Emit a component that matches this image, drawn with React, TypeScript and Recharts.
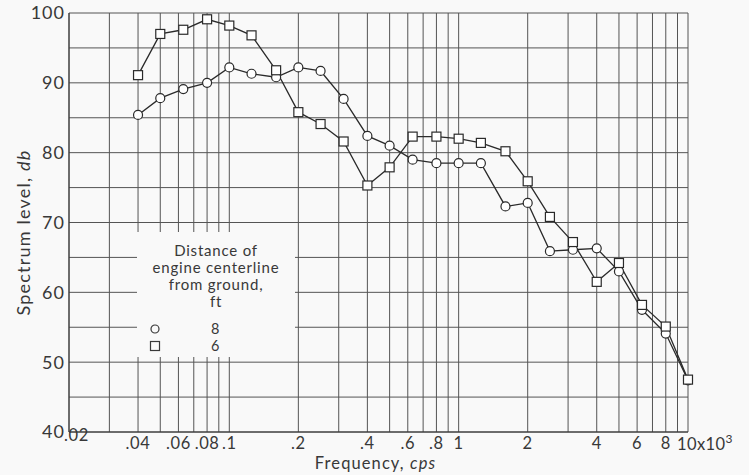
import React from 'react';
import { LineChart, Line, XAxis, YAxis, ReferenceLine, Label } from 'recharts';

// one-third octave band centres, in kilocycles
const freqs = [0.04, 0.05, 0.063, 0.08, 0.1, 0.125, 0.16, 0.2, 0.25, 0.315, 0.4, 0.5, 0.63, 0.8, 1, 1.25, 1.6, 2, 2.5, 3.15, 4, 5, 6.3, 8, 10];
const level8ft = [85.4, 87.8, 89.1, 90.0, 92.2, 91.3, 90.8, 92.2, 91.7, 87.7, 82.4, 81.0, 79.0, 78.5, 78.5, 78.5, 72.3, 72.8, 65.9, 66.1, 66.3, 63.0, 57.5, 54.1, 47.4];
const level6ft = [91.1, 97.0, 97.6, 99.1, 98.2, 96.8, 91.8, 85.8, 84.1, 81.6, 75.3, 77.9, 82.3, 82.3, 82.0, 81.4, 80.2, 75.9, 70.8, 67.2, 61.5, 64.2, 58.2, 55.1, 47.5];

const xTicks = [0.02, 0.04, 0.06, 0.08, 0.1, 0.2, 0.4, 0.6, 0.8, 1, 2, 4, 6, 8, 10];
const xTickLabels = ['.02', '.04', '.06', '.08', '.1', '.2', '.4', '.6', '.8', '1', '2', '4', '6', '8', '10'];
const yTicks = [40, 50, 60, 70, 80, 90, 100];
const xGrid = [0.02, 0.03, 0.04, 0.05, 0.06, 0.07, 0.08, 0.09, 0.1, 0.2, 0.3, 0.4, 0.5, 0.6, 0.7, 0.8, 0.9, 1, 2, 3, 4, 5, 6, 7, 8, 9, 10];
const yGrid = [40, 45, 50, 55, 60, 65, 70, 75, 80, 85, 90, 95, 100];

const data = freqs.map((f, i) => ({ f, d8: level8ft[i], d6: level6ft[i] }));

const FONT = "Lato, 'Open Sans', sans-serif";
const INK = '#383838';
const BG = '#f9f9f9';

const FreqTick = (props: any) => {
  const { x, y, payload } = props;
  const v = payload.value;
  const label = xTickLabels[xTicks.indexOf(v)];
  if (v === 10) {
    return (
      <text x={x - 11} y={y + 18} fill={INK} fontSize={16.5} fontFamily={FONT} letterSpacing={0.4}>
        10x10<tspan dy={-7} fontSize={12}>3</tspan>
      </text>
    );
  }
  if (v === 0.02) {
    return (
      <text x={x - 5} y={y + 9} fill={INK} fontSize={16.5} fontFamily={FONT} letterSpacing={0.6}>
        {label}
      </text>
    );
  }
  return (
    <text x={x} y={y + 17} fill={INK} fontSize={16.5} fontFamily={FONT} letterSpacing={0.6} textAnchor="middle">
      {label}
    </text>
  );
};

const SquareDot = (props: any) => {
  const { cx, cy, index } = props;
  return <rect key={`sq-${index}`} x={cx - 4.5} y={cy - 4.5} width={9} height={9} fill="#fff" stroke="#2a2a2a" strokeWidth={1.2} />;
};

const LegendBox = () => (
  <div
    style={{
      position: 'absolute', left: 137, top: 232, width: 158, height: 125,
      background: BG, fontFamily: FONT, color: INK, fontSize: 15, lineHeight: '17px', letterSpacing: 0.8,
    }}
  >
    <div style={{ textAlign: 'center', marginTop: 10 }}>
      Distance of<br />engine centerline<br />from ground,<br />ft
    </div>
    <div style={{ display: 'flex', alignItems: 'center', marginTop: 10, height: 17.5 }}>
      <svg width={36} height={12}><circle cx={18} cy={6} r={4} fill="none" stroke={INK} strokeWidth={1.2} /></svg>
      <span style={{ marginLeft: 38, fontSize: 14.5, lineHeight: '14px' }}>8</span>
    </div>
    <div style={{ display: 'flex', alignItems: 'center', height: 17.5 }}>
      <svg width={36} height={12}><rect x={13.5} y={1.5} width={9} height={9} fill="none" stroke={INK} strokeWidth={1.2} /></svg>
      <span style={{ marginLeft: 38, fontSize: 14.5, lineHeight: '14px' }}>6</span>
    </div>
  </div>
);

export default function App() {
  return (
    <div style={{ position: 'absolute', left: 0, top: 0, width: 749, height: 475, background: BG }}>
      <LineChart width={749} height={475} data={data} margin={{ top: 13, right: 61, bottom: 0, left: 9 }}>
        {xGrid.map((g) => (
          <ReferenceLine key={`vx-${g}`} x={g} stroke="#555" strokeWidth={1} />
        ))}
        {yGrid.map((g) => (
          <ReferenceLine key={`hy-${g}`} y={g} stroke="#555" strokeWidth={1} />
        ))}
        <XAxis
          dataKey="f"
          type="number"
          scale="log"
          domain={[0.02, 10]}
          ticks={xTicks}
          interval={0}
          tick={<FreqTick />}
          tickLine={false}
          tickSize={0}
          tickMargin={0}
          height={43}
          axisLine={{ stroke: '#333' }}
        >
          <Label
            content={(p: any) => {
              const vb = p.viewBox || { x: 69, y: 432, width: 619 };
              return (
                <text x={vb.x + vb.width / 2 - 3} y={vb.y + 37} fill={INK} fontSize={16.5} letterSpacing={1.1} fontFamily={FONT} textAnchor="middle">
                  Frequency, <tspan fontStyle="italic">cps</tspan>
                </text>
              );
            }}
          />
        </XAxis>
        <YAxis
          type="number"
          domain={[40, 100]}
          ticks={yTicks}
          interval={0}
          width={60}
          tickLine={false}
          tickSize={0}
          tickMargin={4}
          axisLine={{ stroke: '#333' }}
          tick={{ fill: INK, fontSize: 18, fontFamily: FONT, letterSpacing: 1 }}
        >
          <Label
            content={(p: any) => {
              const vb = p.viewBox || { x: 9, y: 13, height: 419 };
              const cx = vb.x + 21;
              const cy = vb.y + vb.height / 2 + 10;
              return (
                <text x={cx} y={cy} transform={`rotate(-90, ${cx}, ${cy})`} fill={INK} fontSize={18} letterSpacing={1.2} fontFamily={FONT} textAnchor="middle">
                  Spectrum level, <tspan fontStyle="italic">db</tspan>
                </text>
              );
            }}
          />
        </YAxis>
        <Line
          dataKey="d8"
          stroke="#2a2a2a"
          strokeWidth={1.3}
          isAnimationActive={false}
          dot={{ r: 4.5, fill: '#fff', stroke: '#2a2a2a', strokeWidth: 1.2 }}
          activeDot={false}
        />
        <Line
          dataKey="d6"
          stroke="#2a2a2a"
          strokeWidth={1.3}
          isAnimationActive={false}
          dot={<SquareDot />}
          activeDot={false}
        />
      </LineChart>
      <LegendBox />
    </div>
  );
}
